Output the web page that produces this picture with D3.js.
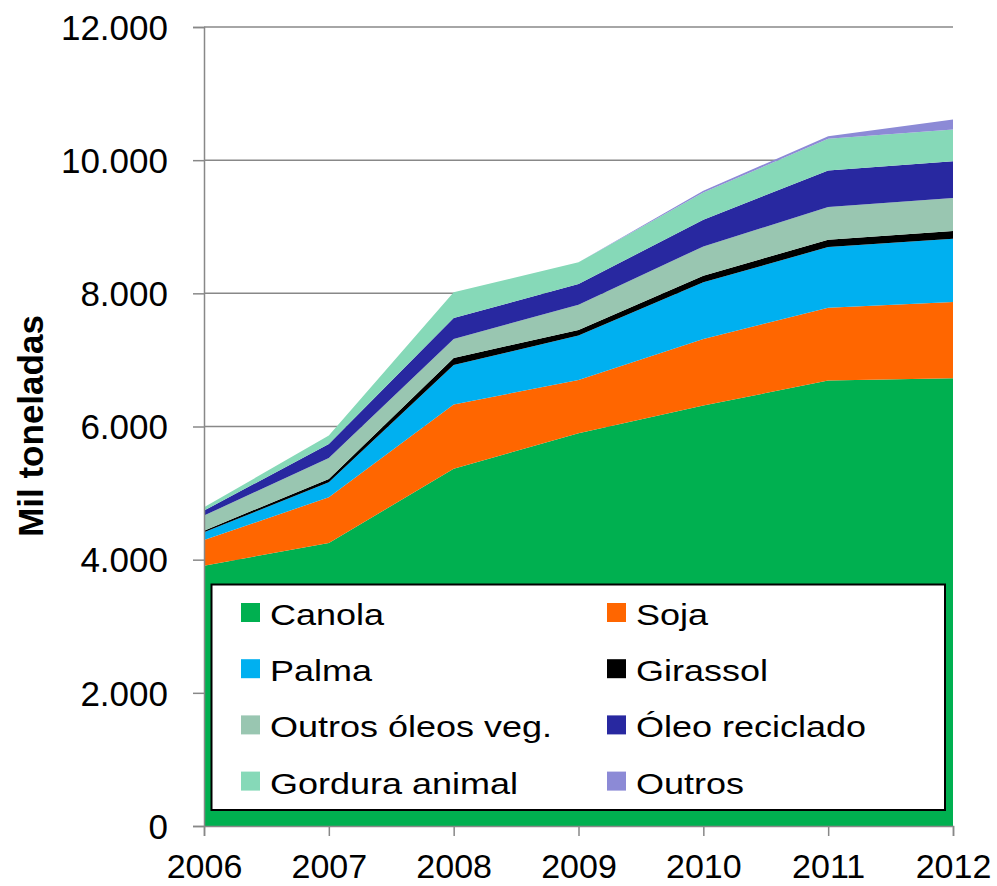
<!DOCTYPE html>
<html>
<head>
<meta charset="utf-8">
<script src="https://cdn.jsdelivr.net/npm/d3@7"></script>
<style>
  body { margin: 0; background: #fff; }
  text { font-family: "Liberation Sans", Arial, sans-serif; fill: #000; }
</style>
</head>
<body>
<svg id="chart"></svg>
<script>
const width = 997;
const height = 886;

// Data (mil toneladas)
const years = [2006, 2007, 2008, 2009, 2010, 2011, 2012];
const canola = [3910, 4250, 5365, 5900, 6315, 6690, 6725];
const soja = [386, 686, 965, 800, 1000, 1095, 1145];
const palma = [115, 226, 595, 665, 850, 910, 950];
const girassol = [25, 50, 105, 85, 100, 110, 115];
const outrosOleosVeg = [226, 316, 285, 380, 440, 490, 495];
const oleoReciclado = [75, 210, 315, 310, 400, 550, 555];
const gorduraAnimal = [50, 126, 385, 325, 410, 475, 475];
const outros = [0, 0, 0, 0, 25, 40, 150];

const seriesNames = ["Canola", "Soja", "Palma", "Girassol", "Outros óleos veg.", "Óleo reciclado", "Gordura animal", "Outros"];
const seriesValues = [canola, soja, palma, girassol, outrosOleosVeg, oleoReciclado, gorduraAnimal, outros];
const colors = ["#00b050", "#ff6600", "#00b0f0", "#000000", "#99c6b1", "#2828a0", "#86d9b8", "#8c8ad6"];
const yTicks = [0, 2000, 4000, 6000, 8000, 10000, 12000];

const table = years.map((yr, i) => {
    const row = { year: yr };
    seriesNames.forEach((n, j) => { row[n] = seriesValues[j][i]; });
    return row;
});

const svg = d3.select("#chart")
    .attr("width", width)
    .attr("height", height);

const x = d3.scaleLinear().domain([2006, 2012]).range([204, 953]);
const y = d3.scaleLinear().domain([0, 12000]).range([826, 27]);
const color = d3.scaleOrdinal().domain(seriesNames).range(colors);

// gridlines
svg.append("g")
    .selectAll("line")
    .data(yTicks.slice(1))
    .enter()
    .append("line")
    .attr("x1", x(2006))
    .attr("x2", x(2012))
    .attr("y1", d => y(d))
    .attr("y2", d => y(d))
    .attr("stroke", "#888")
    .attr("stroke-width", 1.5);

// stacked areas
const stacked = d3.stack().keys(seriesNames)(table);
const area = d3.area()
    .x(d => x(d.data.year))
    .y0(d => y(d[0]))
    .y1(d => y(d[1]));

svg.append("g")
    .selectAll("path")
    .data(stacked)
    .enter()
    .append("path")
    .attr("d", area)
    .attr("fill", d => color(d.key));

// y axis
const yAxis = svg.append("g")
    .attr("transform", `translate(${x(2006)},0)`)
    .call(d3.axisLeft(y)
        .tickValues(yTicks)
        .tickSize(11)
        .tickPadding(25)
        .tickFormat(d => d3.format(",")(d).replace(/,/g, ".")));
yAxis.select(".domain").attr("stroke", "#888").attr("stroke-width", 1.5);
yAxis.selectAll(".tick line").attr("stroke", "#888").attr("stroke-width", 1.5);
yAxis.selectAll(".tick text")
    .style("font-size", "35px")
    .attr("dy", "0.35em");

// x axis
const xAxis = svg.append("g")
    .attr("transform", `translate(0,${y(0)})`)
    .call(d3.axisBottom(x)
        .tickValues(years)
        .tickSize(10)
        .tickPadding(18)
        .tickFormat(d3.format("d")));
xAxis.select(".domain").attr("stroke", "#888").attr("stroke-width", 1.5);
xAxis.selectAll(".tick line").attr("stroke", "#888").attr("stroke-width", 1.5);
xAxis.selectAll(".tick text")
    .style("font-size", "34px")
    .attr("dy", "0.71em");

// y title
svg.append("text")
    .attr("transform", "translate(43,426) rotate(-90)")
    .attr("text-anchor", "middle")
    .style("font-size", "35px")
    .style("font-weight", "bold")
    .text("Mil toneladas");

// legend
const legend = svg.append("g").attr("id", "legend");
legend.append("rect")
    .attr("x", 211.5)
    .attr("y", 584.5)
    .attr("width", 733.5)
    .attr("height", 225.5)
    .attr("fill", "#fff")
    .attr("stroke", "#000")
    .attr("stroke-width", 2);

const items = legend.selectAll(".legend-item")
    .data(seriesNames)
    .enter()
    .append("g")
    .attr("class", "legend-item")
    .attr("transform", (d, i) => `translate(${i % 2 === 0 ? 241 : 607},${625 + Math.floor(i / 2) * 56.2})`);

items.append("rect")
    .attr("x", 0)
    .attr("y", -22)
    .attr("width", 19)
    .attr("height", 19)
    .attr("fill", d => color(d));

items.append("text")
    .attr("transform", "translate(29,0) scale(1.2,1)")
    .style("font-size", "30px")
    .text(d => d);
</script>
</body>
</html>
